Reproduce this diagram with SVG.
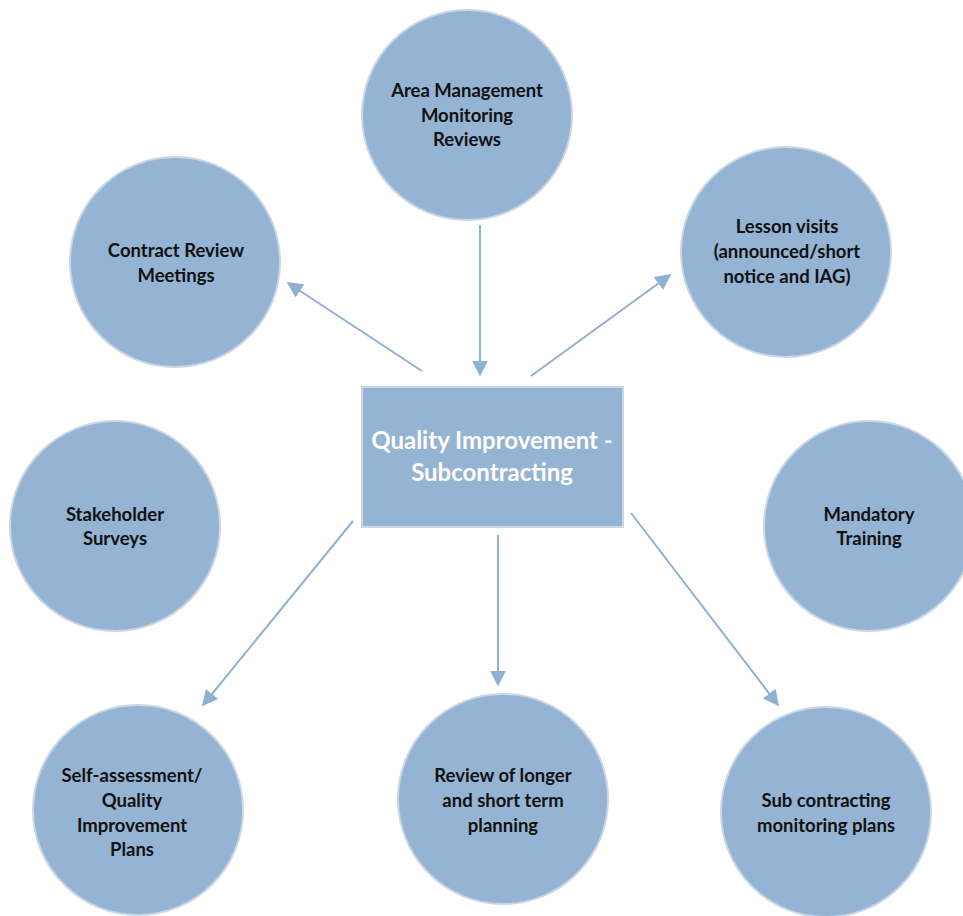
<svg xmlns="http://www.w3.org/2000/svg" width="963" height="916" viewBox="0 0 963 916">
<defs>
<style>
.n{fill:#95b3d3;stroke:#c9d6e4;stroke-width:2}
.t{font-family:Lato,"Liberation Sans",sans-serif;font-weight:bold;font-size:18.5px;fill:#111;text-anchor:middle}
.c{font-family:Lato,"Liberation Sans",sans-serif;font-weight:bold;font-size:24px;fill:#fff;text-anchor:middle}
.e{stroke:#8fb0d0;stroke-width:2;fill:none;marker-end:url(#ah)}
</style>
<marker id="ah" viewBox="0 0 10 10" refX="9" refY="5" markerWidth="8" markerHeight="8" markerUnits="strokeWidth" orient="auto">
<path d="M0,0 L10,5 L0,10 Z" fill="#8fb0d0"/>
</marker>
</defs>
<rect width="963" height="916" fill="#fff"/>
<g id="connectors">
<line class="e" x1="480" y1="225" x2="480" y2="375"/>
<line class="e" x1="422" y1="371" x2="288" y2="283"/>
<line class="e" x1="531" y1="376" x2="670" y2="275"/>
<line class="e" x1="353" y1="521" x2="203" y2="705"/>
<line class="e" x1="498" y1="535" x2="498" y2="685"/>
<line class="e" x1="631" y1="513" x2="778" y2="705"/>
</g>
<g id="center">
<rect x="362" y="387" width="261" height="140" fill="#95b3d3" stroke="#c9d6e4" stroke-width="2"/>
<text class="c" x="492" y="449">Quality Improvement -</text>
<text class="c" x="492" y="481">Subcontracting</text>
</g>
<g id="area">
<circle class="n" cx="467" cy="115" r="105"/>
<text class="t"><tspan x="467" y="97">Area Management</tspan><tspan x="467" y="122">Monitoring</tspan><tspan x="467" y="146">Reviews</tspan></text>
</g>
<g id="contract">
<circle class="n" cx="175" cy="262" r="105"/>
<text class="t"><tspan x="176" y="257">Contract Review</tspan><tspan x="176" y="282">Meetings</tspan></text>
</g>
<g id="lesson">
<circle class="n" cx="786" cy="252" r="105"/>
<text class="t"><tspan x="787" y="233">Lesson visits</tspan><tspan x="787" y="258">(announced/short</tspan><tspan x="787" y="283">notice and IAG)</tspan></text>
</g>
<g id="stakeholder">
<circle class="n" cx="115" cy="526" r="105"/>
<text class="t"><tspan x="115" y="521">Stakeholder</tspan><tspan x="115" y="545">Surveys</tspan></text>
</g>
<g id="mandatory">
<circle class="n" cx="869" cy="526" r="105"/>
<text class="t"><tspan x="869" y="521">Mandatory</tspan><tspan x="869" y="545">Training</tspan></text>
</g>
<g id="selfassessment">
<circle class="n" cx="138" cy="810" r="105"/>
<text class="t"><tspan x="132" y="782">Self-assessment/</tspan><tspan x="132" y="807">Quality</tspan><tspan x="132" y="832">Improvement</tspan><tspan x="132" y="856">Plans</tspan></text>
</g>
<g id="review">
<circle class="n" cx="503" cy="799" r="105"/>
<text class="t"><tspan x="503" y="782">Review of longer</tspan><tspan x="503" y="807">and short term</tspan><tspan x="503" y="832">planning</tspan></text>
</g>
<g id="subcontracting">
<circle class="n" cx="826" cy="812" r="105"/>
<text class="t"><tspan x="826" y="807">Sub contracting</tspan><tspan x="826" y="832">monitoring plans</tspan></text>
</g>
</svg>
